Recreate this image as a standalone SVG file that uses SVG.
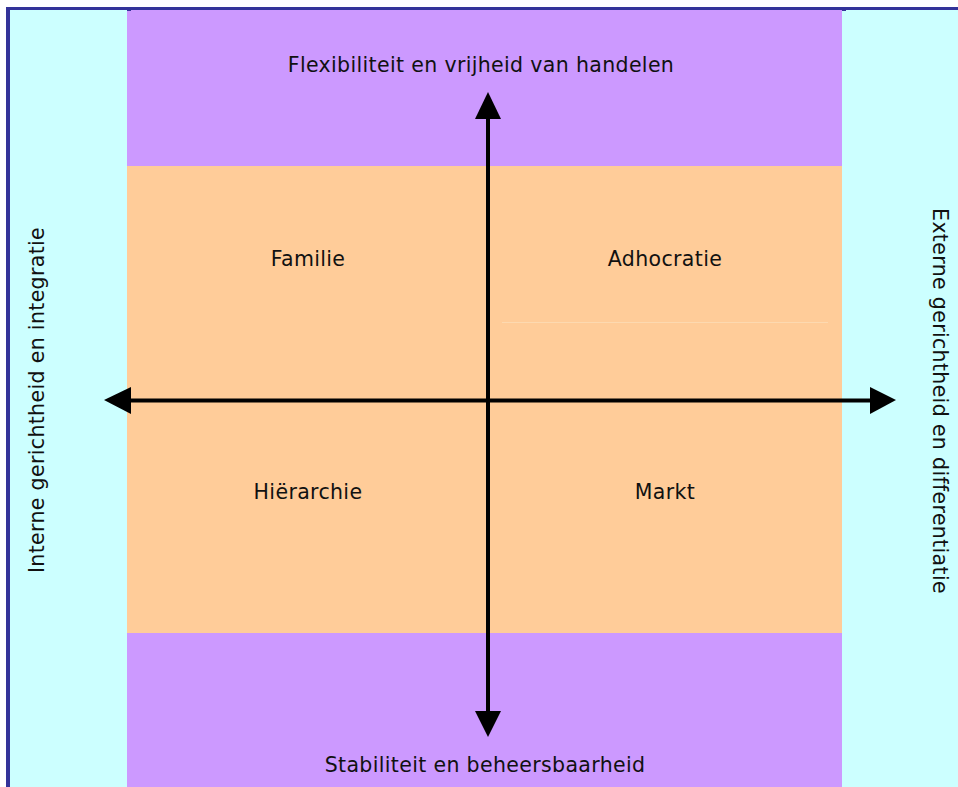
<svg xmlns="http://www.w3.org/2000/svg" width="958" height="787" viewBox="0 0 958 787">
  <style>
    .lbl { font-family: "DejaVu Sans", Verdana, sans-serif; font-size: 20.5px; letter-spacing: 0.35px; fill: #111111; text-anchor: middle; }
    .axis { stroke: #000000; stroke-width: 4; fill: none; }
    .head { fill: #000000; }
  </style>
  <rect x="0" y="0" width="958" height="787" fill="#ffffff"/>

  <!-- background bands -->
  <g id="bands">
    <rect x="10" y="10" width="117" height="777" fill="#ccffff"/>
    <rect x="842" y="10" width="116" height="777" fill="#ccffff"/>
    <rect x="127" y="10" width="715" height="156" fill="#cc99ff"/>
    <rect x="127" y="633" width="715" height="154" fill="#cc99ff"/>
    <rect x="127" y="166" width="715" height="467" fill="#ffcc99"/>
    <line x1="502" y1="322.5" x2="828" y2="322.5" stroke="#fdd9b0" stroke-width="1"/>
  </g>

  <!-- frame -->
  <g id="frame" fill="#333399">
    <rect x="6" y="7" width="952" height="3"/>
    <rect x="6" y="7" width="4" height="780"/>
    <rect x="127" y="10" width="4" height="1"/>
    <rect x="842" y="10" width="4" height="1"/>
  </g>

  <!-- axis labels -->
  <g id="top-label"><text class="lbl" x="481" y="72">Flexibiliteit en vrijheid van handelen</text></g>
  <g id="bottom-label"><text class="lbl" x="485" y="772">Stabiliteit en beheersbaarheid</text></g>
  <g id="left-label"><text class="lbl" transform="translate(44 400) rotate(-90)">Interne gerichtheid en integratie</text></g>
  <g id="right-label"><text class="lbl" transform="translate(933 401) rotate(90)">Externe gerichtheid en differentiatie</text></g>

  <!-- quadrants -->
  <g id="familie"><text class="lbl" x="308" y="266">Familie</text></g>
  <g id="adhocratie"><text class="lbl" x="665" y="266">Adhocratie</text></g>
  <g id="hierarchie"><text class="lbl" x="308" y="499">Hiërarchie</text></g>
  <g id="markt"><text class="lbl" x="665" y="499">Markt</text></g>

  <!-- axes -->
  <g id="connectors">
    <line class="axis" x1="488" y1="116" x2="488" y2="714"/>
    <polygon class="head" points="488,92 501,119 475,119"/>
    <polygon class="head" points="488,737 501,711 475,711"/>
    <line class="axis" x1="129" y1="400.5" x2="872" y2="400.5"/>
    <polygon class="head" points="104,400 131,387 131,414"/>
    <polygon class="head" points="896,400 870,387 870,414"/>
  </g>
</svg>
